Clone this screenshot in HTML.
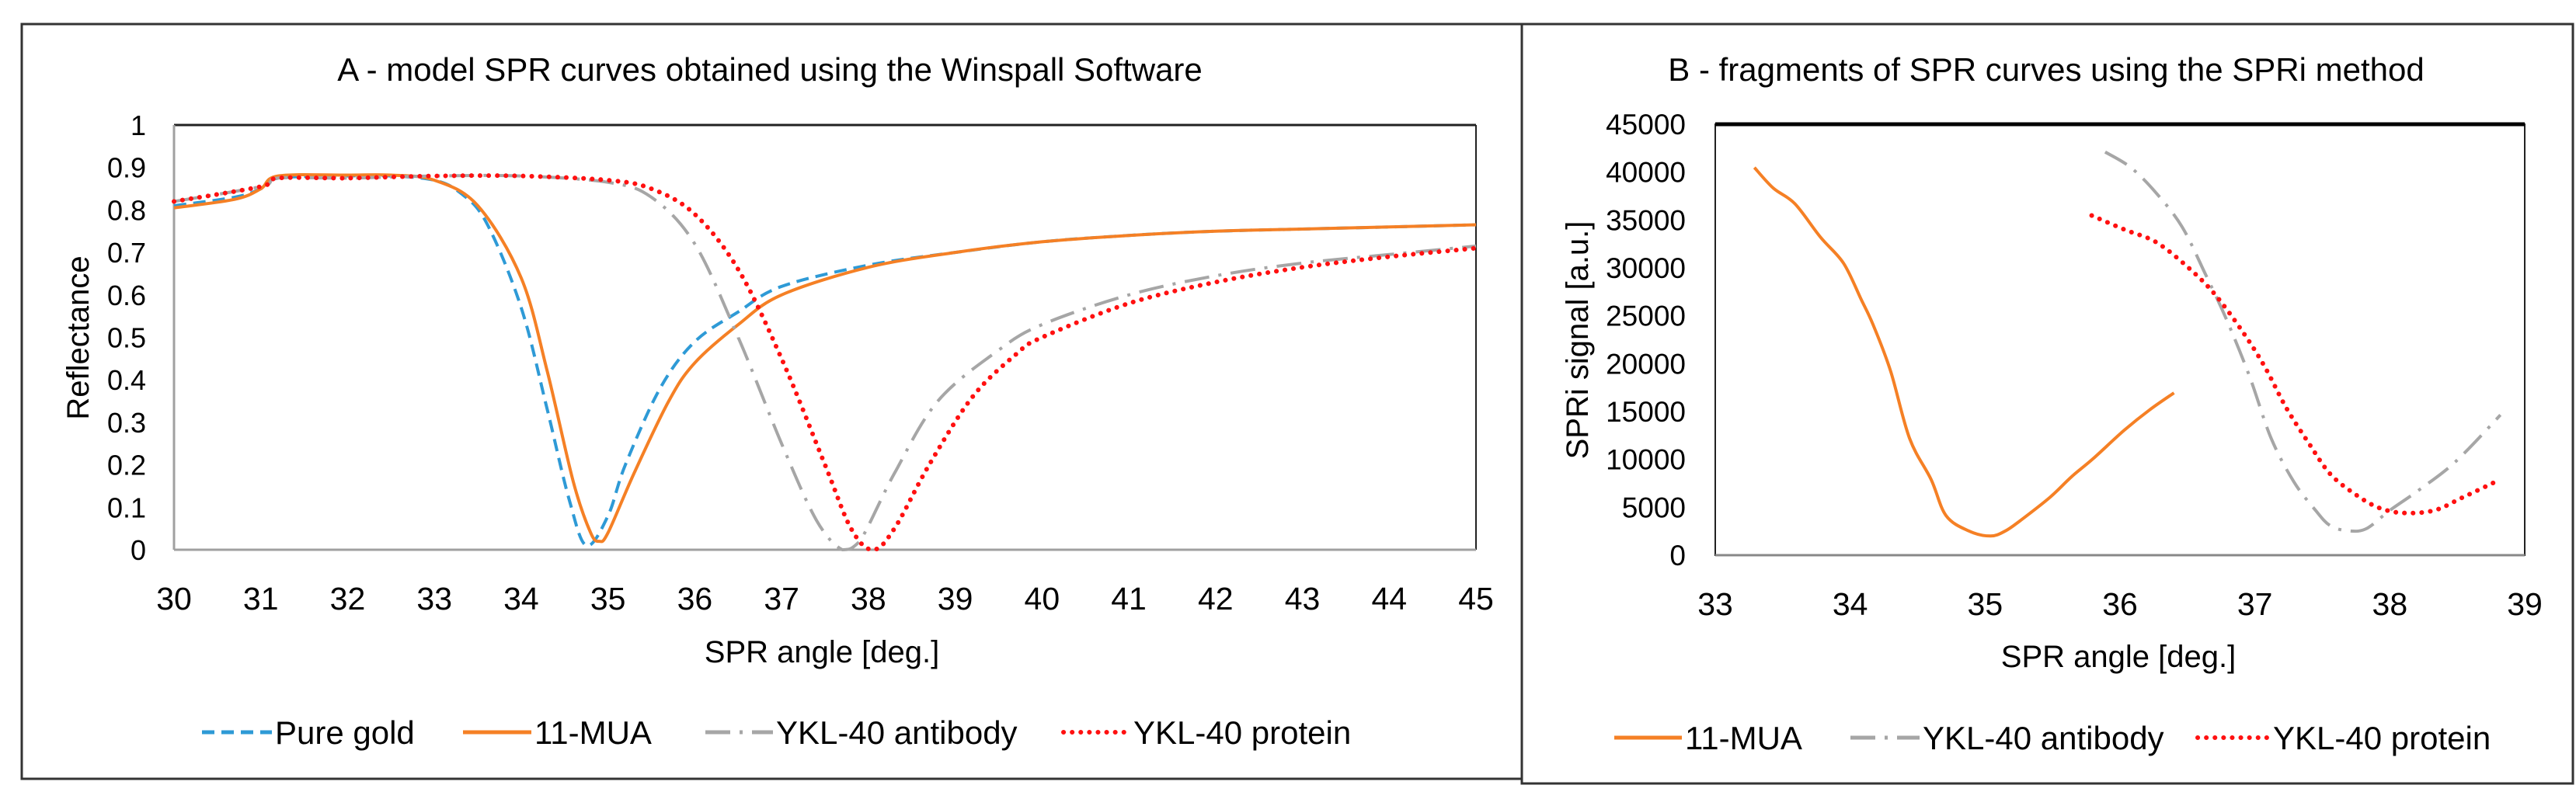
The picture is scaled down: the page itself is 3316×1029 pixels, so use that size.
<!DOCTYPE html>
<html><head><meta charset="utf-8"><style>
html,body{margin:0;padding:0;background:#fff;}
svg{display:block;font-family:"Liberation Sans",sans-serif;}
</style></head><body>
<svg id="fig" width="3316" height="1029" viewBox="0 0 3316 1029" xmlns="http://www.w3.org/2000/svg">
<rect x="28" y="31" width="1931" height="972" fill="none" stroke="#333" stroke-width="3"/>
<rect x="1959" y="31" width="1353" height="978" fill="none" stroke="#333" stroke-width="3"/>
<text x="991" y="104" text-anchor="middle" font-size="42">A - model SPR curves obtained using the Winspall Software</text>
<text x="2634" y="104" text-anchor="middle" font-size="42">B - fragments of SPR curves using the SPRi method</text>
<g id="ga"></g>
<g id="gb"></g>
</svg>
<script>
// Panel A data
const aX = [30,30.7,31,31.2,32,32.5,33,33.3,33.6,34,34.3,34.55,34.75,35.0,35.2,35.6,36,36.5,37,38,39,40,41,42,43,44,45];
const goldY = [0.81,0.83,0.85,0.875,0.88,0.88,0.87,0.84,0.77,0.57,0.33,0.12,0.01,0.08,0.2,0.38,0.49,0.56,0.62,0.67,0.70,0.725,0.74,0.75,0.755,0.76,0.765];
const muaX = [30,30.7,31,31.2,32,32.5,33,33.5,34,34.3,34.6,34.8,34.9,35.0,35.3,35.7,36,36.5,37,38,39,40,41,42,43,44,45];
const muaY = [0.805,0.825,0.85,0.88,0.882,0.882,0.87,0.81,0.64,0.42,0.16,0.04,0.02,0.04,0.18,0.35,0.44,0.53,0.60,0.665,0.70,0.725,0.74,0.75,0.755,0.76,0.765];
const abX = [30,31,31.2,32,33,34,35,35.5,36,36.5,37,37.4,37.7,37.9,38.3,38.8,39.5,40,41,42,43,44,45];
const abY = [0.82,0.855,0.875,0.875,0.88,0.88,0.865,0.83,0.72,0.5,0.25,0.07,0.0,0.02,0.18,0.35,0.47,0.53,0.6,0.645,0.675,0.695,0.715];
const prX = [30,31,31.2,32,33,34,35,35.5,36,36.5,37,37.5,37.8,38.05,38.3,38.7,39.2,39.7,40,41,42,43,44,45];
const prY = [0.82,0.855,0.875,0.875,0.88,0.88,0.87,0.85,0.79,0.66,0.45,0.2,0.05,0.0,0.05,0.2,0.36,0.46,0.5,0.58,0.63,0.665,0.69,0.71];
const aXTicks = [30,31,32,33,34,35,36,37,38,39,40,41,42,43,44,45];
const aYTicks = [0,0.1,0.2,0.3,0.4,0.5,0.6,0.7,0.8,0.9,1];
// Panel B data
const bMuaX = [33.29,33.43,33.59,33.78,33.95,34.08,34.17,34.3,34.44,34.6,34.71,34.88,35.04,35.15,35.26,35.48,35.64,35.8,36.03,36.22,36.4];
const bMuaY = [40480,38330,36700,33200,30500,26750,24060,19200,12200,7900,4140,2530,2000,2530,3600,6030,8180,10070,13030,15180,16950];
const bAbX = [35.89,36.08,36.27,36.46,36.63,36.79,36.96,37.12,37.29,37.45,37.56,37.7,37.83,38.0,38.22,38.49,38.82];
const bAbY = [42100,40480,37790,34290,29440,24600,18680,12220,7640,4680,3070,2530,2800,4680,6840,9800,14640];
const bPrX = [35.79,36.03,36.27,36.51,36.7,36.9,37.07,37.23,37.4,37.56,37.75,37.92,38.1,38.33,38.54,38.82];
const bPrY = [35470,34020,32670,29980,27290,23520,19750,15450,11680,8450,6300,4950,4410,4680,6030,7910];
const bXTicks = [33,34,35,36,37,38,39];
const bYTicks = [0,5000,10000,15000,20000,25000,30000,35000,40000,45000];

const NS='http://www.w3.org/2000/svg';
function mk(parent,tag,attrs,text){const e=document.createElementNS(NS,tag);for(const k in attrs)e.setAttribute(k,attrs[k]);if(text!==undefined)e.textContent=text;parent.appendChild(e);return e;}
function pathD(xs,ys,sx,sy,yMax){
  const p=xs.map((x,i)=>[sx(x),sy(ys[i])]);let d='M'+p[0][0]+','+p[0][1];
  const cl=v=>Math.min(v,yMax);
  for(let i=0;i<p.length-1;i++){const p0=p[i-1]||p[i],p1=p[i],p2=p[i+1],p3=p[i+2]||p2;
    const c1=[p1[0]+(p2[0]-p0[0])/6,cl(p1[1]+(p2[1]-p0[1])/6)],c2=[p2[0]-(p3[0]-p1[0])/6,cl(p2[1]-(p3[1]-p1[1])/6)];
    d+=' C'+c1[0].toFixed(1)+','+c1[1].toFixed(1)+' '+c2[0].toFixed(1)+','+c2[1].toFixed(1)+' '+p2[0].toFixed(1)+','+p2[1].toFixed(1);}
  return d;}
const styles={
  gold:{stroke:'#2e9ad6','stroke-dasharray':'16 9'},
  mua:{stroke:'#f58025'},
  ab:{stroke:'#a6a6a6','stroke-dasharray':'32 12 4 12'},
  pr:{stroke:'#ff1010','stroke-dasharray':'0.1 11','stroke-linecap':'round','stroke-width':'6'}
};
function series(g,xs,ys,sx,sy,st,name,yMax){
  const a=Object.assign({d:pathD(xs,ys,sx,sy,yMax),fill:'none','stroke-width':'4'},styles[st]);
  const el=mk(g,'path',a);
  
  
}
function legend(g,x1,x2,y,st,label,name){
  const a=Object.assign({x1:x1,x2:x2,y1:y,y2:y,'stroke-width':'5'},styles[st]);
  const l=mk(g,'line',a);
  
  
  const t=mk(g,'text',{x:x2+4,y:y+15,'font-size':'42'},label);
  
  
}
// Panel A
(function(){
  const g=document.getElementById('ga');
  const L=224,R=1900,T=161,B=708;
  const sx=x=>L+(x-30)/15*(R-L), sy=y=>B-y*(B-T);
  mk(g,'line',{x1:L,x2:R,y1:T,y2:T,stroke:'#222','stroke-width':'3'});
  mk(g,'line',{x1:R,x2:R,y1:T,y2:B,stroke:'#222','stroke-width':'2'});
  const ax=mk(g,'line',{x1:L,x2:R,y1:B,y2:B,stroke:'#a0a0a0','stroke-width':'3'});
  
  
  const ay=mk(g,'line',{x1:L,x2:L,y1:T,y2:B,stroke:'#a0a0a0','stroke-width':'3'});
  
  
  aYTicks.forEach(v=>{const t=mk(g,'text',{x:L-36,y:sy(v)+13,'text-anchor':'end','font-size':'36'},String(v));
    
    });
  aXTicks.forEach(v=>{const t=mk(g,'text',{x:sx(v),y:785,'text-anchor':'middle','font-size':'41'},String(v));
    
    });
  const xt=mk(g,'text',{x:1058,y:853,'text-anchor':'middle','font-size':'40'},'SPR angle [deg.]');
  
  
  const yt=mk(g,'text',{x:0,y:0,'text-anchor':'middle','font-size':'40',transform:'translate(114,435) rotate(-90)'},'Reflectance');
  
  
  series(g,aX,goldY,sx,sy,'gold','pure-gold-line',B);
  series(g,muaX,muaY,sx,sy,'mua','11-mua-line',B);
  series(g,abX,abY,sx,sy,'ab','ykl40-antibody-line',B);
  series(g,prX,prY,sx,sy,'pr','ykl40-protein-line',B);
  legend(g,260,350,943,'gold','Pure gold','legend-pure-gold');
  legend(g,596,684,943,'mua','11-MUA','legend-11-mua');
  legend(g,908,995,943,'ab','YKL-40 antibody','legend-ykl40-antibody');
  legend(g,1369,1455,943,'pr','YKL-40 protein','legend-ykl40-protein');
})();
// Panel B
(function(){
  const g=document.getElementById('gb');
  const L=2208,R=3250,T=160,B=715;
  const sx=x=>L+(x-33)/6*(R-L), sy=y=>B-y/45000*(B-T);
  mk(g,'rect',{x:L,y:T,width:R-L,height:B-T,fill:'none',stroke:'#222','stroke-width':'2'});
  mk(g,'line',{x1:L,x2:R,y1:T,y2:T,stroke:'#000','stroke-width':'5'});
  const ax=mk(g,'line',{x1:L,x2:R,y1:B,y2:B,stroke:'#888','stroke-width':'3'});
  
  
  bYTicks.forEach(v=>{const t=mk(g,'text',{x:2170,y:sy(v)+13,'text-anchor':'end','font-size':'37'},String(v));
    
    });
  bXTicks.forEach(v=>{const t=mk(g,'text',{x:sx(v),y:792,'text-anchor':'middle','font-size':'41'},String(v));
    
    });
  const xt=mk(g,'text',{x:2727,y:859,'text-anchor':'middle','font-size':'40'},'SPR angle [deg.]');
  
  
  const yt=mk(g,'text',{x:0,y:0,'text-anchor':'middle','font-size':'40',transform:'translate(2044,438) rotate(-90)'},'SPRi signal [a.u.]');
  
  
  series(g,bMuaX,bMuaY,sx,sy,'mua','b-11-mua-line',B);
  series(g,bAbX,bAbY,sx,sy,'ab','b-ykl40-antibody-line',B);
  series(g,bPrX,bPrY,sx,sy,'pr','b-ykl40-protein-line',B);
  legend(g,2078,2165,950,'mua','11-MUA','b-legend-11-mua');
  legend(g,2382,2471,950,'ab','YKL-40 antibody','b-legend-ykl40-antibody');
  legend(g,2829,2922,950,'pr','YKL-40 protein','b-legend-ykl40-protein');
})();
</script>
</body></html>
